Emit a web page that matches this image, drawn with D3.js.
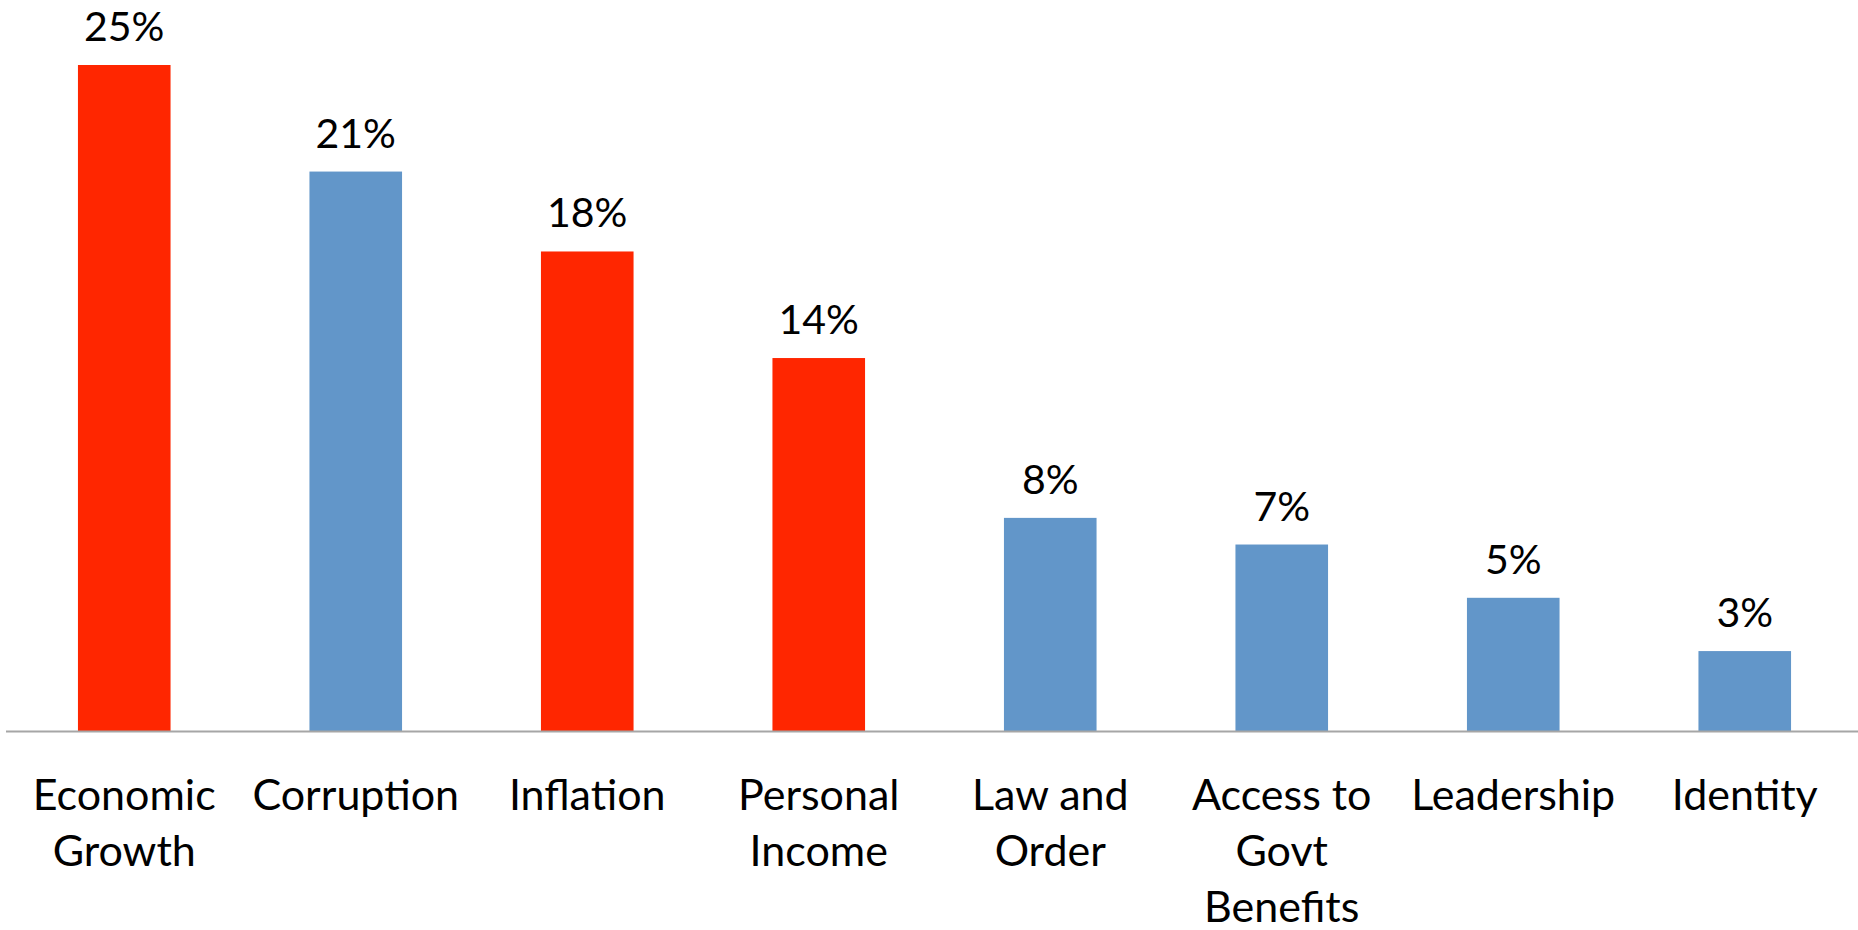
<!DOCTYPE html>
<html>
<head>
<meta charset="utf-8">
<script src="https://cdn.jsdelivr.net/npm/d3@7"></script>
<style>
  html, body { margin: 0; padding: 0; background: #fff; }
  svg { display: block; }
  text { font-family: Lato, "Open Sans", sans-serif; fill: #000; }
</style>
</head>
<body>
<svg id="chart" width="1858" height="930"></svg>
<script>
// Share of respondents naming each issue as most important
const categories = ["Economic Growth", "Corruption", "Inflation", "Personal Income",
                    "Law and Order", "Access to Govt Benefits", "Leadership", "Identity"];
const values = [25, 21, 18, 14, 8, 7, 5, 3];
// Economic issues are highlighted in red
const highlighted = [true, false, true, true, false, false, false, false];
const labelLines = [["Economic", "Growth"], ["Corruption"], ["Inflation"], ["Personal", "Income"],
                    ["Law and", "Order"], ["Access to", "Govt", "Benefits"], ["Leadership"], ["Identity"]];

const W = 1858, H = 930;
const baseline = 731;
const svg = d3.select("#chart");

const x = d3.scaleBand()
  .domain(categories)
  .range([8.5, 1860.5])
  .paddingInner(0.6)
  .paddingOuter(0.3);

const y = d3.scaleLinear()
  .domain([0, 25])
  .range([baseline, 65]);

const data = categories.map((c, i) => ({ c, v: values[i], hi: highlighted[i], lines: labelLines[i] }));

// bars
svg.append("g").selectAll("rect")
  .data(data)
  .join("rect")
  .attr("x", d => x(d.c))
  .attr("y", d => y(d.v))
  .attr("width", x.bandwidth())
  .attr("height", d => y(0) - y(d.v))
  .attr("fill", d => d.hi ? "#ff2600" : "#6296c9");

// value labels
svg.append("g").selectAll("text")
  .data(data)
  .join("text")
  .attr("x", d => x(d.c) + x.bandwidth() / 2)
  .attr("y", d => y(d.v) - 24)
  .attr("text-anchor", "middle")
  .style("font-size", "41px")
  .text(d => d.v + "%");

// category axis line
svg.append("line")
  .attr("x1", 6).attr("x2", W)
  .attr("y1", baseline + 0.5).attr("y2", baseline + 0.5)
  .attr("stroke", "#a6a6a6")
  .attr("stroke-width", 2);

// category labels, wrapped onto several lines
const cat = svg.append("g").selectAll("text")
  .data(data)
  .join("text")
  .attr("text-anchor", "middle")
  .style("font-size", "43px");
cat.selectAll("tspan")
  .data(d => d.lines.map((l, k) => ({ l, k, c: d.c })))
  .join("tspan")
  .attr("x", t => x(t.c) + x.bandwidth() / 2)
  .attr("y", t => 810 + t.k * 56)
  .text(t => t.l);
</script>
</body>
</html>
